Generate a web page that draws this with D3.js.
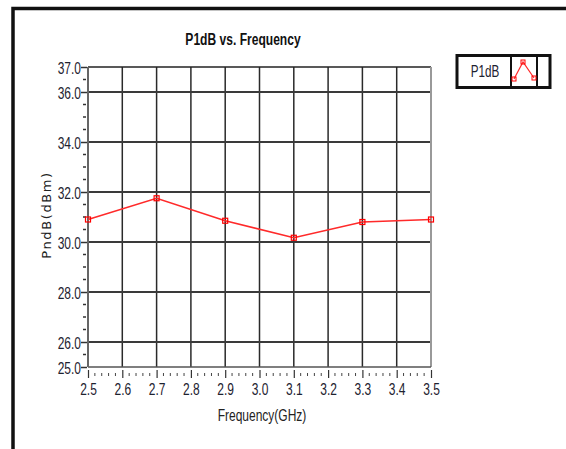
<!DOCTYPE html>
<html>
<head>
<meta charset="utf-8">
<script src="https://cdn.jsdelivr.net/npm/d3@7"></script>
<style>
  body { margin: 0; background: #fff; }
  svg { display: block; }
  .tick text { font-family: "Liberation Sans", Arial, sans-serif; font-size: 16px; fill: #1e2230; }
</style>
</head>
<body>
<script>
// chart data
var freq = [2.5, 2.7, 2.9, 3.1, 3.3, 3.5];
var p1db = [30.9, 31.75, 30.85, 30.17, 30.8, 30.9];
var yLabelTicks = [25, 26, 28, 30, 32, 34, 36, 37];
var yGridTicks = [26, 28, 30, 32, 34, 36];
var xLabelTicks = [2.5, 2.6, 2.7, 2.8, 2.9, 3.0, 3.1, 3.2, 3.3, 3.4, 3.5];
var seriesName = "P1dB";

var W = 566, H = 449;
var plotL = 88, plotR = 431, plotT = 67, plotB = 367;
var sans = "\"Liberation Sans\", Arial, sans-serif";

var svg = d3.select("body").append("svg")
	.attr("width", W)
	.attr("height", H);

// narrow-looking text: squeeze horizontally
function label(g, px, py, str, size, sx, opts) {
	opts = opts || {};
	return g.append("g")
		.attr("transform", "translate(" + px + "," + py + ")")
		.append("text")
		.attr("transform", "scale(" + sx + ",1)")
		.attr("text-anchor", opts.anchor || "middle")
		.attr("font-family", sans)
		.attr("font-weight", opts.weight || "normal")
		.attr("font-size", size)
		.attr("fill", opts.fill || "#1e2230")
		.text(str);
}

// outer frame
svg.append("path")
	.attr("d", "M13," + H + " L13,8.5 L" + W + ",8.5")
	.attr("fill", "none")
	.attr("stroke", "#111")
	.attr("stroke-width", 3.5);

var x = d3.scaleLinear().domain([2.5, 3.5]).range([plotL, plotR]);
var y = d3.scaleLinear().domain([25, 37]).range([plotB, plotT]);

// grid
svg.append("g").selectAll("line")
	.data(xLabelTicks.slice(1, -1))
	.enter().append("line")
	.attr("x1", function (d) { return x(d); })
	.attr("x2", function (d) { return x(d); })
	.attr("y1", plotT).attr("y2", plotB)
	.attr("stroke", "#2a2a2a")
	.attr("stroke-width", 1.5);

svg.append("g").selectAll("line")
	.data(yGridTicks)
	.enter().append("line")
	.attr("x1", plotL).attr("x2", plotR)
	.attr("y1", function (d) { return y(d); })
	.attr("y2", function (d) { return y(d); })
	.attr("stroke", "#3a3a3a")
	.attr("stroke-width", 2);

// plot border
svg.append("line").attr("x1", plotL).attr("x2", plotR).attr("y1", plotT).attr("y2", plotT)
	.attr("stroke", "#222").attr("stroke-width", 1.5);
svg.append("line").attr("x1", plotR).attr("x2", plotR).attr("y1", plotT).attr("y2", plotB)
	.attr("stroke", "#999").attr("stroke-width", 2);
svg.append("line").attr("x1", plotL).attr("x2", plotR).attr("y1", plotB).attr("y2", plotB)
	.attr("stroke", "#555").attr("stroke-width", 1.5);
svg.append("line").attr("x1", plotL).attr("x2", plotL).attr("y1", plotT).attr("y2", plotB)
	.attr("stroke", "#666").attr("stroke-width", 2);

// y axis
var yAxis = svg.append("g")
	.attr("transform", "translate(" + (plotL - 1) + ",0)")
	.call(d3.axisLeft(y).tickValues(yLabelTicks).tickSize(6).tickPadding(2)
		.tickFormat(d3.format(".1f")));
yAxis.select(".domain").remove();
yAxis.selectAll(".tick line").attr("stroke", "#333").attr("stroke-width", 1.5);
yAxis.selectAll(".tick text").attr("dy", "0.4em").attr("transform", "scale(0.75,1)");

// y minor ticks every 0.5
var yMinor = d3.range(25.5, 37, 0.5).filter(function (d) { return yLabelTicks.indexOf(d) < 0; });
svg.append("g").selectAll("line")
	.data(yMinor)
	.enter().append("line")
	.attr("x1", plotL - 5).attr("x2", plotL - 2)
	.attr("y1", function (d) { return y(d); })
	.attr("y2", function (d) { return y(d); })
	.attr("stroke", "#333")
	.attr("stroke-width", 1.5);

// x axis
var xAxis = svg.append("g")
	.attr("transform", "translate(0," + (plotB + 3) + ")")
	.call(d3.axisBottom(x).tickValues(xLabelTicks).tickSize(8).tickPadding(6)
		.tickFormat(d3.format(".1f")));
xAxis.select(".domain").remove();
xAxis.selectAll(".tick line").attr("stroke", "#333").attr("stroke-width", 1.2);
xAxis.selectAll(".tick text").attr("transform", "scale(0.75,1)");

// x minor ticks
var xMinor = d3.range(0, 51).map(function (i) { return 2.5 + i * 0.02; })
	.filter(function (d, i) { return i % 5 !== 0; });
svg.append("g").selectAll("line")
	.data(xMinor)
	.enter().append("line")
	.attr("x1", function (d) { return x(d); })
	.attr("x2", function (d) { return x(d); })
	.attr("y1", plotB + 6).attr("y2", plotB + 9)
	.attr("stroke", "#444")
	.attr("stroke-width", 1);

// series
var pts = freq.map(function (f, i) { return [f, p1db[i]]; });
var line = d3.line()
	.x(function (d) { return x(d[0]); })
	.y(function (d) { return y(d[1]); });

svg.append("path")
	.datum(pts)
	.attr("d", line)
	.attr("fill", "none")
	.attr("stroke", "#ff2a2a")
	.attr("stroke-width", 1.6);

svg.selectAll(".mk")
	.data(pts)
	.enter().append("rect")
	.attr("class", "mk")
	.attr("x", function (d) { return x(d[0]) - 2.5; })
	.attr("y", function (d) { return y(d[1]) - 2.5; })
	.attr("width", 5).attr("height", 5)
	.attr("fill", "none")
	.attr("stroke", "#ff0000")
	.attr("stroke-width", 1.2);

// title
label(svg, 243, 45, "P1dB vs. Frequency", 17, 0.71, { weight: "bold", fill: "#111" });

// axis titles
label(svg, 262, 421, "Frequency(GHz)", 16, 0.75, { fill: "#222" });

svg.append("text")
	.attr("transform", "translate(51,215) rotate(-90)")
	.attr("text-anchor", "middle")
	.attr("font-family", "\"DejaVu Sans\", sans-serif")
	.attr("font-size", 13)
	.attr("letter-spacing", 1.6)
	.attr("fill", "#222")
	.text("PndB(dBm)");

// legend
var lg = svg.append("g");
lg.append("rect")
	.attr("x", 457).attr("y", 55.5)
	.attr("width", 93).attr("height", 32)
	.attr("fill", "#fff")
	.attr("stroke", "#111")
	.attr("stroke-width", 3);
lg.append("rect")
	.attr("x", 511).attr("y", 56)
	.attr("width", 26).attr("height", 31)
	.attr("fill", "#fff")
	.attr("stroke", "#111")
	.attr("stroke-width", 2);
label(lg, 485, 77, seriesName, 16, 0.73);

var iconPts = [[514, 79], [523, 62], [534, 78]];
lg.append("path")
	.attr("d", d3.line()(iconPts))
	.attr("fill", "none")
	.attr("stroke", "#ff2a2a")
	.attr("stroke-width", 1.2);
lg.selectAll(".imk")
	.data(iconPts)
	.enter().append("rect")
	.attr("x", function (d) { return d[0] - 2; })
	.attr("y", function (d) { return d[1] - 2; })
	.attr("width", 4).attr("height", 4)
	.attr("fill", "none")
	.attr("stroke", "#ff0000")
	.attr("stroke-width", 1);
</script>
</body>
</html>
